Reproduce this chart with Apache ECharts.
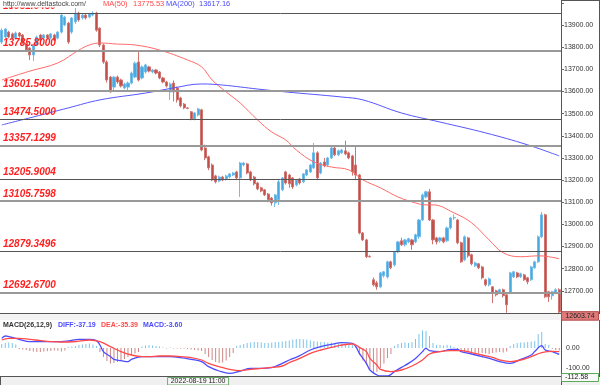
<!DOCTYPE html>
<html>
<head>
<meta charset="utf-8">
<script src="https://cdn.jsdelivr.net/npm/echarts@6/dist/echarts.min.js"></script>
<style>
html,body{margin:0;padding:0;background:#fff;}
#c{width:600px;height:385px;}
</style>
</head>
<body>
<div id="c"></div>
<script>
// ---------- DATA ----------
// OHLC candles: [open, close, low, high]
const candles = [
[13823,13877,13815,13885],[13846,13882,13840,13886],[13868,13846,13840,13874],[13860,13841,13835,13866],
[13841,13864,13836,13870],[13864,13850,13843,13868],[13855,13818,13812,13860],[13818,13787,13780,13823],
[13796,13765,13742,13800],[13765,13810,13738,13815],[13810,13846,13805,13852],[13855,13832,13828,13860],
[13841,13855,13835,13860],[13855,13841,13836,13858],[13841,13860,13835,13864],[13855,13832,13826,13860],
[13841,13868,13836,13872],[13868,13945,13862,13952],[13900,13936,13895,13942],[13909,13823,13815,13914],
[13868,13932,13860,13936],[13914,13954,13905,13977],[13954,13923,13915,13960],[13932,13945,13925,13950],
[13945,13932,13925,13950],[13936,13950,13930,13955],[13945,13954,13940,13962],[13954,13877,13870,13960],
[13886,13810,13800,13890],[13810,13733,13725,13815],[13733,13652,13640,13740],[13665,13598,13595,13670],
[13620,13665,13600,13670],[13665,13643,13635,13672],[13652,13625,13618,13658],[13616,13634,13610,13640],
[13620,13638,13600,13645],[13638,13683,13632,13690],[13665,13728,13660,13735],[13733,13652,13645,13778],
[13661,13711,13655,13718],[13688,13720,13680,13725],[13711,13692,13686,13716],[13688,13697,13682,13702],
[13697,13683,13677,13702],[13688,13661,13655,13692],[13661,13643,13637,13666],[13643,13625,13618,13648],
[13598,13634,13562,13640],[13638,13598,13555,13650],[13616,13562,13550,13622],[13571,13535,13528,13576],
[13543,13526,13520,13548],[13526,13524,13520,13530],[13508,13476,13470,13512],[13476,13503,13470,13508],
[13494,13521,13488,13526],[13517,13336,13330,13522],[13345,13300,13290,13360],[13305,13255,13245,13310],
[13268,13201,13195,13275],[13219,13192,13185,13224],[13196,13214,13190,13220],[13214,13201,13195,13219],
[13205,13219,13198,13224],[13214,13228,13208,13232],[13223,13232,13218,13237],[13237,13210,13200,13242],
[13210,13277,13124,13282],[13268,13277,13262,13282],[13273,13232,13226,13278],[13237,13201,13195,13242],
[13214,13183,13176,13219],[13187,13160,13154,13192],[13165,13151,13145,13170],[13156,13133,13128,13160],
[13137,13111,13100,13142],[13119,13097,13085,13124],[13097,13133,13079,13137],[13111,13192,13088,13200],
[13156,13210,13150,13214],[13237,13187,13180,13242],[13223,13183,13165,13228],[13210,13169,13160,13214],
[13178,13201,13172,13205],[13205,13187,13180,13210],[13192,13228,13186,13232],[13223,13246,13218,13250],
[13237,13268,13232,13273],[13255,13323,13250,13368],[13323,13210,13200,13330],[13232,13277,13226,13282],
[13282,13264,13258,13300],[13268,13300,13262,13305],[13300,13345,13295,13350],[13345,13314,13308,13350],
[13314,13332,13308,13338],[13323,13336,13318,13340],[13332,13318,13312,13378],[13323,13300,13294,13328],
[13309,13237,13220,13314],[13268,13223,13200,13350],[13223,12961,12955,13228],[12961,12930,12925,12966],
[12930,12854,12848,12935],[12856,12854,12850,12860],[12750,12727,12720,12760],[12736,12718,12705,12745],
[12718,12781,12712,12786],[12768,12786,12760,12790],[12763,12831,12755,12836],[12831,12804,12798,12836],
[12817,12876,12810,12880],[12876,12921,12870,12926],[12926,12908,12902,12940],[12908,12930,12900,12935],
[12921,12935,12915,12940],[12930,12908,12885,12935],[12921,12953,12915,12958],[12944,13020,12935,13025],
[13020,13133,13015,13140],[13124,13147,13118,13152],[13147,13020,13015,13160],[13020,12930,12910,13025],
[12939,12921,12910,12944],[12926,12939,12918,12944],[12939,12921,12915,12944],[12926,12984,12920,12990],
[12984,13029,12978,13034],[13029,13031,13020,13045],[13020,12917,12910,13025],[12917,12831,12826,12922],
[12840,12944,12835,12950],[12939,12858,12850,12944],[12863,12822,12815,12868],[12813,12826,12808,12832],
[12822,12804,12798,12826],[12808,12759,12752,12813],[12750,12727,12720,12755],[12727,12754,12720,12760],
[12718,12691,12645,12722],[12700,12682,12675,12705],[12691,12705,12685,12710],[12705,12678,12670,12710],
[12682,12637,12601,12686],[12691,12781,12685,12786],[12763,12786,12758,12790],[12781,12763,12757,12786],
[12763,12777,12758,12782],[12772,12750,12745,12777],[12759,12741,12730,12763],[12750,12808,12745,12813],
[12804,12831,12798,12836],[12831,12944,12826,12950],[12944,13043,12938,13056],[13043,12673,12668,13048],
[12696,12673,12650,12700],[12678,12696,12660,12700],[12691,12705,12685,12712],[12705,12604,12600,12712]
];

// moving averages: [candle index, value]
const ma50 = [[0,13652],[8,13692],[16,13729],[22,13787],[25,13810],[28,13819],[33,13814],[38,13810],
[45,13787],[53,13742],[57,13711],[60,13652],[64,13598],[68,13548],[73,13471],[77,13417],[81,13381],
[84,13336],[89,13282],[94,13259],[99,13246],[103,13201],[108,13165],[113,13124],[118,13097],[121,13088],
[123,13088],[129,13052],[134,13007],[139,12930],[143,12872],[148,12854],[153,12858],[156,12854],[159,12845]];
const ma200 = [[0,13449],[9,13485],[19,13526],[28,13562],[41,13593],[49,13616],[57,13634],[63,13629],
[73,13611],[81,13598],[97,13575],[103,13562],[114,13503],[125,13462],[138,13413],[150,13359],[159,13309]];

// MACD(26,12,9)
const macdHist = [20,25,28,25,18,-5,-8,-10,
-15,-18,-20,-20,-18,-16,-15,-12,-14,-18,-12,
5,8,10,15,18,20,22,18,10,
-20,-45,-65,-78,-75,-70,-62,-55,-45,-35,-28,-20,
8,12,15,12,10,8,
3,-2,2,-3,-2,-4,-3,-5,-8,-10,-12,
-15,-30,-45,-60,-70,-75,-72,-62,-45,-25,
10,15,20,25,28,30,30,28,25,25,28,30,30,32,35,38,
42,45,45,44,42,38,
35,32,30,30,28,28,25,24,22,20,18,15,5,
-35,-62,-85,-105,-128,-120,-100,-78,-50,-30,
10,20,25,28,25,30,45,70,88,85,60,
25,15,15,12,15,12,5,-5,
-15,-20,-25,-28,-30,-28,-25,-28,-30,-25,-22,-20,-22,-18,
10,20,25,28,28,30,32,35,70,80,20,15,-5,-10,-12];
const diffPts = [[0,48],[1,60],[2,57],[5,43],[8,32],[17,32],[19,35],[22,43],[25,43],[27,37],[28,15],
[29,-18],[31,-43],[32,-57],[34,-63],[36,-68],[37,-57],[40,-43],[48,-43],[51,-48],[54,-57],[57,-68],
[59,-93],[62,-115],[65,-127],[68,-115],[71,-102],[74,-102],[77,-98],[80,-77],[82,-60],[85,-38],
[88,-10],[91,7],[94,18],[97,27],[100,23],[101,7],[102,-27],[104,-77],[105,-110],[107,-135],[108,-140],
[110,-140],[112,-118],[114,-97],[116,-77],[118,-52],[120,-18],[121,-2],[122,-13],[125,-18],[128,-7],
[130,-7],[131,-18],[134,-30],[137,-43],[140,-57],[142,-68],[145,-77],[148,-57],[151,-35],[152,-18],
[154,12],[155,-10],[157,-18],[159,-32]];
const deaPts = [[0,40],[2,48],[5,48],[8,43],[11,37],[14,32],[17,30],[19,30],[22,34],[25,40],[28,32],
[31,7],[34,-18],[37,-35],[40,-43],[42,-43],[45,-40],[48,-40],[51,-43],[54,-48],[57,-60],[59,-77],
[62,-93],[65,-107],[68,-113],[71,-107],[74,-102],[77,-97],[80,-90],[82,-73],[85,-52],[88,-27],[91,-10],
[94,3],[97,15],[100,20],[101,15],[102,3],[104,-18],[105,-52],[107,-85],[108,-107],[111,-118],[114,-110],
[117,-90],[120,-60],[122,-30],[125,-18],[128,-13],[131,-13],[134,-23],[137,-35],[140,-47],[142,-60],
[145,-68],[148,-60],[151,-43],[154,-23],[157,-17],[159,-18]];

// horizontal levels
const levels = [13951.6450,13785.8000,13601.5400,13474.5000,13357.1299,13205.9004,13105.7598,12879.3496,12692.6700];
const lastPrice = 12603.74;
const crossTime = '2022-08-19 11:00';
const crossIndex = 56;
const cursorMacd = -112.58;
const headerMA50 = 13775.53, headerMA200 = 13617.16;
const headerDiff = -37.19, headerDea = -35.39, headerMacd = -3.60;

// hourly category labels
const pad = n => String(n).padStart(2,'0');
const cats = [];
const t0 = Date.UTC(2022,7,19,11) - crossIndex*3600000;
for (let i = 0; i < candles.length; i++) {
  const d = new Date(t0 + i*3600000);
  cats.push(d.getUTCFullYear()+'-'+pad(d.getUTCMonth()+1)+'-'+pad(d.getUTCDate())+' '+pad(d.getUTCHours())+':00');
}

// ---------- CHART ----------
const FONT = '"Liberation Sans", Arial, sans-serif';
const chart = echarts.init(document.getElementById('c'), null, {renderer:'canvas'});
const thick = [false,true,true,false,true,false,true,false,true];

const option = {
  animation: false,
  backgroundColor: '#fff',
  grid: [
    {left:0, top:0, width:561, height:313},
    {left:0, top:320, width:561, height:56}
  ],
  xAxis: [
    {type:'category', gridIndex:0, data:cats, boundaryGap:true, show:false},
    {type:'category', gridIndex:1, data:cats, boundaryGap:true, show:false}
  ],
  yAxis: [
    {type:'value', gridIndex:0, position:'right', min:12600, max:14013, interval:100,
     axisLine:{show:true, lineStyle:{color:'#555', width:1}},
     axisTick:{show:true, length:3, lineStyle:{color:'#666'}},
     splitLine:{show:false},
     axisLabel:{fontSize:7, fontFamily:FONT, color:'#333', margin:3,
       formatter:v=> (v<=12600 || v>=14000) ? '' : v.toFixed(2)}},
    {type:'value', gridIndex:1, position:'right', min:-140, max:140, interval:20,
     axisLine:{show:true, lineStyle:{color:'#555', width:1}},
     axisTick:{show:false}, splitLine:{show:false},
     axisLabel:{fontSize:7, fontFamily:FONT, color:'#333', margin:5,
       formatter:v=> v===0 ? '0.00' : (v===-100 ? '-100.00' : '')}}
  ],
  series: [
    {type:'candlestick', xAxisIndex:0, yAxisIndex:0, data:candles, barWidth:2.6,
     itemStyle:{color:'#48a8e0', color0:'#c24e4a', borderColor:'#70bcea', borderColor0:'#d07470', borderWidth:1},
     markLine:{
       silent:true, symbol:'none', animation:false,
       label:{show:true, position:'insideStartTop', distance:[3,2],
         color:'#ff1f1f', fontStyle:'italic', fontWeight:'bold', fontSize:10, fontFamily:FONT},
       data: levels.map((v,i)=>({yAxis:v,
         label:{formatter: v.toFixed(4)},
         lineStyle: thick[i] ? {color:'#999', width:2, type:'solid'} : {color:'#555', width:1, type:'solid'}}))
     }},
    {type:'line', xAxisIndex:0, yAxisIndex:0, data:ma50, smooth:0.4, symbol:'none',
     lineStyle:{color:'#ff6a6a', width:1}},
    {type:'line', xAxisIndex:0, yAxisIndex:0, data:ma200, smooth:0.4, symbol:'none',
     lineStyle:{color:'#5656ff', width:1}},
    {type:'bar', xAxisIndex:1, yAxisIndex:1, data:macdHist, barWidth:1,
     itemStyle:{color:p=> p.value>=0 ? '#7cc3ea' : '#cf8686'}},
    {type:'line', xAxisIndex:1, yAxisIndex:1, data:diffPts, smooth:0.4, symbol:'none',
     lineStyle:{color:'#4d4dff', width:1.3}},
    {type:'line', xAxisIndex:1, yAxisIndex:1, data:deaPts, smooth:0.4, symbol:'none',
     lineStyle:{color:'#ff4a4a', width:1.3}}
  ]
};
chart.setOption(option);

// decorations, header texts and cursor labels (placed through the chart's own scales)
const crossX = chart.convertToPixel({xAxisIndex:1}, crossTime);
const lastY = chart.convertToPixel({yAxisIndex:0}, lastPrice);
const graphics = [
  {type:'rect', z:100, shape:{x:0,y:0,width:235,height:7.5}, style:{fill:'#fff'}},
  {type:'text', z:101, x:3, y:4, style:{text:'http://www.deltastock.com/', fill:'#444', font:'7px '+FONT, verticalAlign:'middle'}},
  {type:'text', z:101, x:103, y:4, style:{text:'MA(50)', fill:'#ff4a4a', font:'7.5px '+FONT, verticalAlign:'middle'}},
  {type:'text', z:101, x:133, y:4, style:{text:headerMA50.toFixed(2), fill:'#ff4a4a', font:'7.5px '+FONT, verticalAlign:'middle'}},
  {type:'text', z:101, x:166, y:4, style:{text:'MA(200)', fill:'#4a4aff', font:'7.5px '+FONT, verticalAlign:'middle'}},
  {type:'text', z:101, x:199, y:4, style:{text:headerMA200.toFixed(2), fill:'#4a4aff', font:'7.5px '+FONT, verticalAlign:'middle'}},
  {type:'line', z:50, shape:{x1:561,y1:0.5,x2:600,y2:0.5}, style:{stroke:'#555',lineWidth:1}},
  {type:'line', z:50, shape:{x1:599.5,y1:0,x2:599.5,y2:385}, style:{stroke:'#555',lineWidth:1}},
  {type:'rect', z:50, shape:{x:0,y:313,width:600,height:7}, style:{fill:'#f3f3f3'}},
  {type:'line', z:51, shape:{x1:0,y1:313.5,x2:600,y2:313.5}, style:{stroke:'#555',lineWidth:1}},
  {type:'rect', z:50, shape:{x:0,y:376,width:600,height:9}, style:{fill:'#f0f0f0'}},
  {type:'line', z:51, shape:{x1:0,y1:376.5,x2:600,y2:376.5}, style:{stroke:'#555',lineWidth:1}},
  {type:'line', z:51, shape:{x1:561.5,y1:313,x2:561.5,y2:385}, style:{stroke:'#555',lineWidth:1}},
  {type:'line', z:51, shape:{x1:0.5,y1:376,x2:0.5,y2:385}, style:{stroke:'#555',lineWidth:1}},
  {type:'rect', z:60, shape:{x:561.5,y:lastY-0.5,width:37,height:8.5}, style:{fill:'#df7a7a', stroke:'#b54a4a', lineWidth:1}},
  {type:'text', z:61, x:580, y:lastY+3.8, style:{text:lastPrice.toFixed(2), fill:'#222', font:'7px '+FONT, align:'center', verticalAlign:'middle'}},
  {type:'text', z:61, x:3, y:325, style:{text:'MACD(26,12,9)', fill:'#333', font:'bold 7px '+FONT, verticalAlign:'middle'}},
  {type:'text', z:61, x:58, y:325, style:{text:'DIFF:'+headerDiff.toFixed(2), fill:'#4a4aff', font:'bold 7px '+FONT, verticalAlign:'middle'}},
  {type:'text', z:61, x:101, y:325, style:{text:'DEA:'+headerDea.toFixed(2), fill:'#ff4a4a', font:'bold 7px '+FONT, verticalAlign:'middle'}},
  {type:'text', z:61, x:143, y:325, style:{text:'MACD:'+headerMacd.toFixed(2), fill:'#4a4aff', font:'bold 7px '+FONT, verticalAlign:'middle'}},
  {type:'rect', z:60, shape:{x:561.5,y:373.5,width:37,height:8}, style:{fill:'#fafafa', stroke:'#5aaa5a', lineWidth:1}},
  {type:'text', z:61, x:565, y:377.5, style:{text:cursorMacd.toFixed(2), fill:'#222', font:'7px '+FONT, verticalAlign:'middle'}},
  {type:'rect', z:60, shape:{x:crossX-30.5,y:377.5,width:61,height:7.5}, style:{fill:'#f6f6f6', stroke:'#6aaa6a', lineWidth:1}},
  {type:'text', z:61, x:crossX, y:381.5, style:{text:crossTime, fill:'#222', font:'7px '+FONT, align:'center', verticalAlign:'middle'}}
];
chart.setOption({graphic: graphics});
</script>
</body>
</html>
